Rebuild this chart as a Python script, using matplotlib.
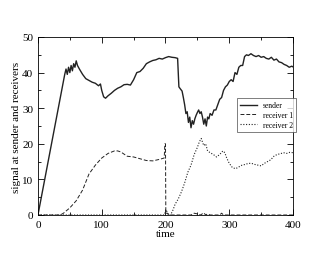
import matplotlib
matplotlib.use("Agg")
import matplotlib.pyplot as plt
from matplotlib.ticker import MultipleLocator

plt.rcParams['font.family'] = ['Liberation Serif', 'DejaVu Serif']

# sender signal
sender_t = [0, 42, 44, 46, 48, 50, 52, 54, 56, 58, 60, 62, 65, 70, 75, 80, 85, 90, 95, 98,
            100, 103, 106, 110, 115, 120, 125, 130, 135, 140, 145, 150, 155, 160, 165, 170,
            175, 180, 185, 190, 195, 200, 205, 210, 215, 219, 221, 223, 226, 228, 230, 232,
            234, 236, 238, 240, 242, 244, 246, 248, 250, 252, 254, 256, 258, 260, 262, 264,
            266, 268, 270, 273, 276, 279, 282, 285, 288, 291, 294, 297, 300, 303, 306, 309,
            312, 315, 318, 321, 324, 327, 330, 334, 338, 342, 346, 350, 354, 358, 362, 366,
            370, 374, 378, 382, 386, 390, 394, 398, 400]
sender_v = [0, 39.5, 41, 39.5, 41.5, 40, 42, 40.5, 42.5, 41.5, 43.3, 42, 41, 39.5, 38.3, 37.8,
            37.3, 37, 36.3, 36.8, 35, 33.2, 32.8, 33.5, 34.2, 35, 35.6, 36, 36.6, 36.7, 36.5,
            38, 40, 40.3, 41.2, 42.5, 43, 43.4, 43.6, 44, 43.8, 44.2, 44.5, 44.3, 44.2, 44,
            36, 35.5, 34.8, 33, 31, 28.5, 29, 26, 27.5, 24.5, 26.5, 25.5, 27, 28, 28.8, 29.5,
            28.5, 29, 27.5, 25.5, 27, 25, 27.5, 27, 28.5, 28, 29.5, 29.5, 31, 32.5, 33, 35,
            36, 36.5, 37.5, 38, 37.5, 40, 39.5, 41.5, 42, 42, 44.5, 45, 44.8, 45.3, 44.8, 44.5,
            44.8, 44.3, 44.5, 44, 43.8, 44.3, 43.5, 43.8, 43, 42.8, 42.3, 42, 41.5, 41.8, 41.6]

# receiver 1
r1_t = [0, 35, 40, 50, 60, 70, 80, 90, 100, 110, 120, 125, 130, 140, 150, 160, 170, 180, 190,
        198, 199, 200, 200.5, 203, 206, 210, 240, 245, 250, 255, 260, 263, 266, 270, 285, 288,
        291, 295, 400]
r1_v = [0, 0, 0.5, 2, 4, 7, 11.5, 14, 16, 17.3, 18, 18, 17.7, 16.5, 16.3, 15.8, 15.3, 15.2,
        15.6, 16, 20, 20, 0.5, 0.5, 0, 0, 0, 0.5, 0.3, 0, 0.6, 0, 0.3, 0, 0, 0.5, 0, 0, 0]

# receiver 2
r2_t = [0, 198, 201, 203, 205, 208, 212, 215, 220, 225, 230, 235, 240, 245, 250, 253, 256,
        258, 260, 263, 266, 270, 275, 280, 285, 290, 293, 296, 300, 305, 310, 315, 320, 325,
        330, 335, 340, 345, 350, 355, 360, 365, 370, 375, 380, 385, 390, 395, 400]
r2_v = [0, 0, 1.5, 0.5, 0, 0, 1.5, 3, 4.5, 6.5, 9, 12, 14, 17, 19, 20.5, 21.5, 20.5, 19.5,
        20, 18, 17.5, 17, 16.3, 17, 18, 17.5, 16, 14.5, 13.3, 13, 13.5, 14, 14.2, 14.5, 14.5,
        14.2, 14, 13.8, 14.5, 15, 15.5, 16.5, 17, 17.2, 17.5, 17.3, 17.6, 17.5]

fig = plt.figure(figsize=(3.3, 2.55), dpi=100)
ax = fig.add_axes([0.115, 0.153, 0.773, 0.698])

ax.plot(sender_t, sender_v, color='#222222', lw=1.0, label='sender')
ax.plot(r1_t, r1_v, color='#222222', lw=0.7, ls=(0, (4, 2)), label='receiver 1')
ax.plot(r2_t, r2_v, color='#222222', lw=0.8, ls=(0, (1, 1.5)), label='receiver 2')

ax.set_xlim(0, 400)
ax.set_ylim(0, 50)
ax.xaxis.set_major_locator(MultipleLocator(100))
ax.xaxis.set_minor_locator(MultipleLocator(50))
ax.yaxis.set_major_locator(MultipleLocator(10))
ax.yaxis.set_minor_locator(MultipleLocator(5))
ax.tick_params(which='both', direction='in', top=True, right=True, labelsize=8, width=0.6)
ax.tick_params(which='major', length=4)
ax.tick_params(which='minor', length=2)
for s in ax.spines.values():
    s.set_linewidth(0.6)

ax.set_xlabel('time', fontsize=8, labelpad=0)
ax.set_ylabel('signal at sender and receivers', fontsize=8, labelpad=1)

leg = ax.legend(loc='upper left', bbox_to_anchor=(0.78, 0.655), fontsize=5.5, frameon=True,
                fancybox=False, edgecolor='#444444', handlelength=2.2, borderaxespad=0,
                borderpad=0.4, labelspacing=0.2)
leg.get_frame().set_linewidth(0.6)

fig.savefig('out.png', dpi=100)
